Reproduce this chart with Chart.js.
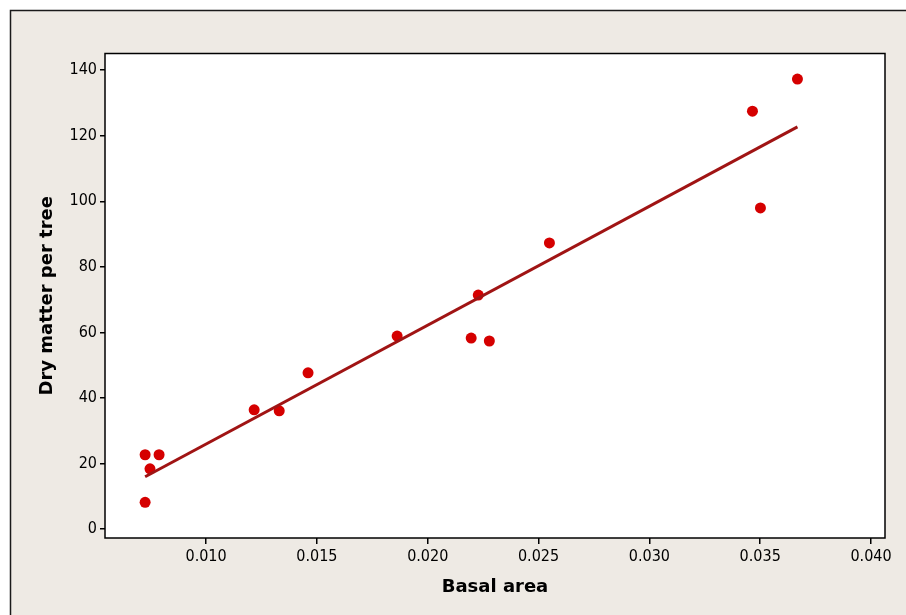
<!DOCTYPE html>
<html>
<head>
<meta charset="utf-8">
<title>Dry matter vs basal area</title>
<script src="https://cdn.jsdelivr.net/npm/chart.js@4.4.1/dist/chart.umd.min.js"></script>
<style>
  html, body { margin: 0; padding: 0; background: #ffffff; }
  #chart { display: block; }
</style>
</head>
<body>
<canvas id="chart" width="906" height="615"></canvas>
<script>
// ----------------------------------------------------------
// DATA
// ----------------------------------------------------------
const basalArea = [0.00725, 0.00725, 0.00788, 0.00747, 0.01217, 0.01330, 0.01460, 0.01862,
                   0.02196, 0.02278, 0.02228, 0.02549, 0.03465, 0.03501, 0.03668];
const dryMatter = [8.2, 22.7, 22.7, 18.4, 36.4, 36.1, 47.7, 58.9,
                   58.3, 57.4, 71.4, 87.3, 127.5, 98.0, 137.3];

// fitted line, its two end points as drawn
const fitX = [0.00725, 0.03668];
const fitY = [16.0, 122.7];

const xTicks = [0.010, 0.015, 0.020, 0.025, 0.030, 0.035, 0.040];
const yTicks = [0, 20, 40, 60, 80, 100, 120, 140];

// ----------------------------------------------------------
// STYLE
// ----------------------------------------------------------
const PANEL = "#EEEAE4";
const tickFont = { family: "'Liberation Sans Narrow', 'DejaVu Sans Condensed', sans-serif", size: 16 };
const titleFont = { family: "'DejaVu Sans', sans-serif", size: 18, weight: "bold" };

// background panel + white plot area + frame
const framePlugin = {
    id: "frame",
    beforeDraw(chart) {
        const ctx = chart.ctx;
        const a = chart.chartArea;
        ctx.save();
        ctx.fillStyle = "#ffffff";
        ctx.fillRect(0, 0, chart.width, chart.height);
        ctx.fillStyle = PANEL;
        ctx.fillRect(10, 10, chart.width - 10, chart.height - 10);
        ctx.strokeStyle = "#1a1a1a";
        ctx.lineWidth = 1.5;
        ctx.beginPath();
        ctx.moveTo(10.5, chart.height);
        ctx.lineTo(10.5, 10.5);
        ctx.lineTo(chart.width, 10.5);
        ctx.stroke();
        ctx.fillStyle = "#ffffff";
        ctx.fillRect(a.left, a.top, a.right - a.left, a.bottom - a.top);
        ctx.restore();
    },
    afterDraw(chart) {
        const ctx = chart.ctx;
        const a = chart.chartArea;
        ctx.save();
        ctx.strokeStyle = "#000000";
        ctx.lineWidth = 1.5;
        ctx.strokeRect(a.left, a.top, a.right - a.left, a.bottom - a.top);
        ctx.restore();
    }
};

// ----------------------------------------------------------
// CHART
// ----------------------------------------------------------
const points = basalArea.map((x, i) => ({ x: x, y: dryMatter[i] }));
const fitLine = fitX.map((x, i) => ({ x: x, y: fitY[i] }));

new Chart(document.getElementById("chart").getContext("2d"), {
    type: "scatter",
    data: {
        datasets: [{
            type: "line",
            data: fitLine,
            borderColor: "#A01414",
            borderWidth: 3,
            pointRadius: 0,
            fill: false,
            order: 0
        }, {
            data: points,
            backgroundColor: "#D50000",
            borderWidth: 0,
            pointRadius: 5.5,
            order: 1
        }]
    },
    options: {
        responsive: false,
        animation: false,
        layout: { padding: { left: 0, top: 53.5, right: 21, bottom: 0 } },
        plugins: {
            legend: { display: false },
            tooltip: { enabled: false }
        },
        scales: {
            x: {
                type: "linear",
                min: 0.00544,
                max: 0.04063,
                afterFit(scale) { scale.height = 77; },
                afterBuildTicks(scale) { scale.ticks = xTicks.map(v => ({ value: v })); },
                ticks: {
                    color: "#000000",
                    font: tickFont,
                    padding: 3,
                    maxRotation: 0,
                    autoSkip: false,
                    callback: v => v.toFixed(3)
                },
                grid: {
                    drawOnChartArea: false,
                    tickLength: 6,
                    tickColor: "#000000",
                    lineWidth: 1.5
                },
                border: { display: false },
                title: {
                    display: true,
                    text: "Basal area",
                    color: "#000000",
                    font: titleFont,
                    padding: { top: 0, bottom: 17 }
                }
            },
            y: {
                type: "linear",
                min: -2.7,
                max: 145.1,
                afterFit(scale) { scale.width = 105; },
                afterBuildTicks(scale) { scale.ticks = yTicks.map(v => ({ value: v })); },
                ticks: {
                    color: "#000000",
                    font: tickFont,
                    padding: 3,
                    autoSkip: false
                },
                grid: {
                    drawOnChartArea: false,
                    tickLength: 5,
                    tickColor: "#000000",
                    lineWidth: 1.5
                },
                border: { display: false },
                title: {
                    display: true,
                    text: "Dry matter per tree",
                    color: "#000000",
                    font: titleFont,
                    padding: { top: 37, bottom: 0 }
                }
            }
        }
    },
    plugins: [framePlugin]
});
</script>
</body>
</html>
